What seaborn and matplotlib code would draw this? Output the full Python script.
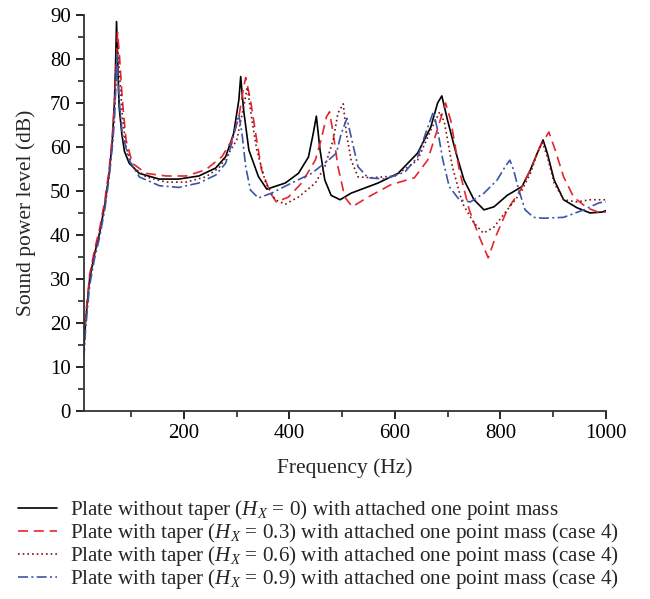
import numpy as np
import pandas as pd
import seaborn as sns
import matplotlib.pyplot as plt
from matplotlib.ticker import MultipleLocator

# Plate without taper (Hx = 0)
freq_h0 = [10, 13, 17, 21, 30, 40, 50, 58, 64, 68, 70, 72, 74, 77, 82, 87, 96, 115, 153, 190,
           228, 260, 279, 294, 304, 307.5, 313, 323, 341, 357, 392, 417, 436, 445, 451, 458,
           467, 479, 496, 517, 568, 606, 643, 668, 681, 689, 700, 716, 731, 750, 769, 788,
           813, 841, 857, 870, 881, 889, 902, 920, 945, 970, 993, 1000]
spl_h0 = [14, 20, 25, 30, 35.5, 40.5, 47, 54, 61.5, 70, 78, 88.5, 80, 69, 63, 59, 56.3, 54,
          52.7, 52.7, 53.4, 55.2, 57.8, 63, 70.7, 76, 68.4, 59.3, 53.3, 50.4, 51.8, 54, 57.7,
          63, 67, 59.3, 52.5, 49, 48, 49.5, 51.8, 54, 58.6, 64.5, 70, 71.6, 66, 58.6, 52.5,
          48, 45.7, 46.4, 49, 51, 54.8, 58.6, 61.6, 58.6, 52.5, 48, 46.2, 45, 45.2, 45.5]

# Plate with taper (Hx = 0.3)
freq_h3 = [10, 13, 17, 21, 30, 40, 50, 58, 64, 68, 71, 74, 78, 83, 90, 102, 128, 166, 204,
           241, 272, 291, 304, 313, 317, 326, 336, 347, 364, 375, 398, 423, 449, 460, 470,
           476, 483, 492, 505, 519, 549, 592, 637, 662, 678, 696, 706, 722, 741, 760, 777,
           791, 813, 838, 857, 875, 892, 904, 920, 939, 964, 989, 1000]
spl_h3 = [16, 21, 26, 31, 36.5, 41.5, 48, 55, 62.5, 70, 77, 86, 80, 70.7, 61.6, 56.3, 54,
          53.4, 53.4, 54.8, 57.8, 61.6, 66.8, 73.6, 75.8, 70.7, 63, 54.8, 49.5, 47.5, 48.6,
          51.8, 57, 61.6, 66.8, 68, 63, 55.5, 48.6, 46.4, 48.6, 51.4, 53, 57, 63, 70, 66,
          54.8, 45.7, 39.6, 34.8, 39.6, 45.7, 50.2, 54.8, 60, 63.4, 59.3, 53.2, 48.6, 46.2,
          45, 45.2]

# Plate with taper (Hx = 0.6)
freq_h6 = [10, 13, 17, 21, 30, 40, 50, 58, 64, 68, 71, 74, 78, 83, 90, 102, 128, 166, 204,
           241, 266, 285, 300, 313, 320, 328, 338, 355, 373, 392, 417, 449, 467, 483, 492,
           502, 508, 517, 530, 555, 600, 643, 668, 685, 694, 709, 728, 750, 768, 788, 813,
           838, 857, 870, 880, 889, 902, 920, 945, 970, 1000]
spl_h6 = [14, 20, 25, 30, 35.5, 40.5, 47, 54, 61, 68, 75, 83, 76, 67, 60, 55.5, 53.2, 52,
          52, 53.2, 55.2, 58.6, 61.6, 69, 73.6, 66.8, 59.3, 51.8, 48, 47, 48.6, 51.8, 55.5,
          61.6, 67.7, 69.8, 63, 57, 53.2, 53, 53.4, 57, 63.8, 68, 65.5, 55.5, 47.2, 42.7,
          40.4, 41.8, 45.7, 49.5, 54, 58.6, 61, 57.8, 51.8, 48, 47.5, 48, 48]

# Plate with taper (Hx = 0.9)
freq_h9 = [10, 13, 17, 21, 30, 40, 50, 58, 64, 68, 70, 73, 76, 83, 96, 115, 153, 190, 228,
           260, 279, 291, 300, 304, 310, 317, 326, 341, 366, 404, 442, 474, 489, 498, 509,
           517, 530, 549, 581, 619, 643, 658, 673, 681, 691, 703, 722, 743, 769, 794, 809,
           818, 825, 835, 847, 863, 882, 920, 958, 987, 1000]
spl_h9 = [12, 18, 23.5, 28.5, 34.5, 39.5, 46, 53, 60, 66, 72, 81, 72, 63, 57, 53.2, 51.2,
          50.8, 51.8, 53.6, 56.3, 61, 65.5, 67.3, 63, 55.5, 50.2, 48.4, 49.5, 51.8, 54, 57,
          58.6, 63, 66.5, 62.3, 55.5, 53, 52.7, 54.3, 57.7, 63, 68, 63.8, 57, 51, 48, 47.5,
          49.5, 52.5, 55.5, 57, 54.8, 50.2, 45.7, 44, 43.8, 44, 45.7, 47.3, 47.5]

labels = [
    r"Plate without taper ($H_X$ = 0) with attached one point mass",
    r"Plate with taper ($H_X$ = 0.3) with attached one point mass (case 4)",
    r"Plate with taper ($H_X$ = 0.6) with attached one point mass (case 4)",
    r"Plate with taper ($H_X$ = 0.9) with attached one point mass (case 4)",
]

sns.set_theme(style="ticks")
plt.rcParams["font.family"] = ["Liberation Serif", "DejaVu Serif"]
plt.rcParams["mathtext.fontset"] = "custom"
plt.rcParams["mathtext.rm"] = "Liberation Serif"
plt.rcParams["mathtext.it"] = "Liberation Serif:italic"

fig = plt.figure(figsize=(6.5, 5.99), dpi=100)
ax = fig.add_axes([0.129, 0.314, 0.803, 0.661])

series = [
    (freq_h0, spl_h0, "black", "-"),
    (freq_h3, spl_h3, "#e8252d", (0, (6, 3.5))),
    (freq_h6, spl_h6, "#7d1515", (0, (1, 1.8))),
    (freq_h9, spl_h9, "#3b56a8", (0, (6, 2, 1.2, 2))),
]
for (fx, fy, col, ls), lab in zip(series, labels):
    sns.lineplot(x=fx, y=fy, ax=ax, color=col, linestyle=ls, linewidth=1.2,
                 label=lab, sort=False, legend=False)

ax.set_xlim(10, 1000)
ax.set_ylim(0, 90)
ax.set_xticks([200, 400, 600, 800, 1000])
ax.xaxis.set_minor_locator(MultipleLocator(100))
ax.yaxis.set_major_locator(MultipleLocator(10))
ax.yaxis.set_minor_locator(MultipleLocator(5))
ax.tick_params(which="major", direction="out", length=6, width=1.2, labelsize=15, colors="black")
ax.tick_params(which="minor", direction="out", length=4, width=1.2)
for s in ["top", "right"]:
    ax.spines[s].set_visible(False)
for s in ["left", "bottom"]:
    ax.spines[s].set_linewidth(1.3)
    ax.spines[s].set_color("#333333")

ax.set_xlabel("Frequency (Hz)", fontsize=15.5, labelpad=11)
ax.set_ylabel("Sound power level (dB)", fontsize=15.5, labelpad=10)

handles, labs = ax.get_legend_handles_labels()
fig.legend(handles, labs, loc="upper left", bbox_to_anchor=(0.015, 0.182), frameon=False,
           fontsize=15.2, handlelength=1.85, handletextpad=0.6, labelspacing=-0.05,
           borderaxespad=0)

fig.savefig("out.png", dpi=100)
